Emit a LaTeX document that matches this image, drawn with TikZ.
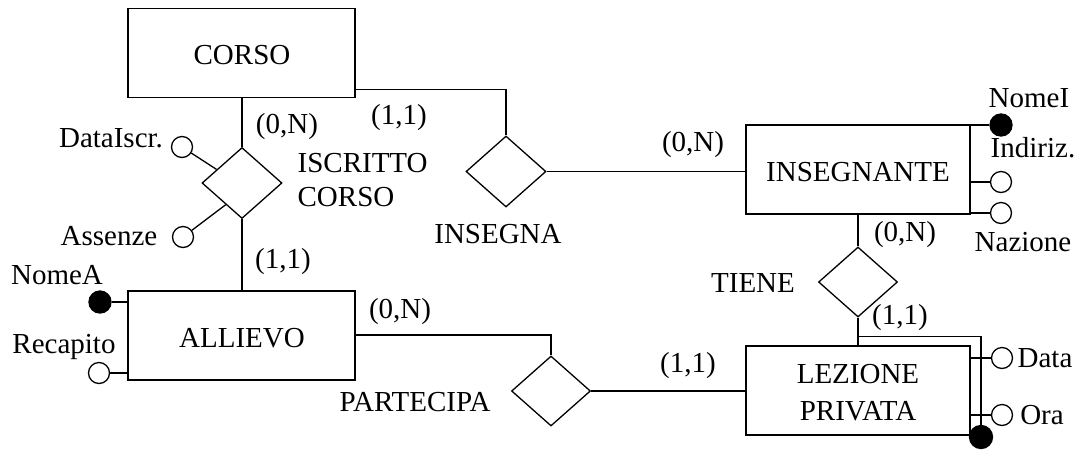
\documentclass[tikz,border=0pt]{standalone}
\usepackage{fontspec}
\setmainfont{Liberation Serif}
\usetikzlibrary{shapes.geometric,calc}
\newcommand\erfont{\fontsize{29}{34}\selectfont}
\begin{document}
\begin{tikzpicture}[x=1pt,y=-1pt, line width=1.3pt,
  every node/.style={font=\erfont, inner sep=0pt},
  entity/.style={draw, rectangle, minimum width=227pt, minimum height=89pt, align=center},
  rel/.style={draw, diamond, minimum width=80pt, minimum height=71pt},
  attr/.style={draw, circle, minimum size=21pt, fill=white},
  keyattr/.style={draw, circle, minimum size=22pt, fill=black}]
\useasboundingbox (0,0) rectangle (1079,451);
% entities
\node[entity] (corso) at (241.5,53) {};
\node (corsoT) at (242,55) {CORSO};
\node[entity] (allievo) at (241.5,335.5) {};
\node (allievoT) at (242,338) {ALLIEVO};
\node[entity, minimum width=224pt] (insegnante) at (858,169.5) {};
\node (insegnanteT) at (858,172) {INSEGNANTE};
\node[entity, minimum width=224pt] (lezione) at (858,390.5) {};
\node[align=center, font=\fontsize{29}{37}\selectfont] (lezioneT) at (858,393) {LEZIONE\\PRIVATA};
% relationships
\node[rel] (iscritto) at (242,183) {};
\node[rel] (insegna) at (506,171.5) {};
\node[rel, minimum width=79pt, minimum height=70pt] (partecipa) at (551,391) {};
\node[rel, minimum width=79pt, minimum height=70pt] (tiene) at (858,282) {};
% connectors
\draw (corso.south -| iscritto.north) -- (iscritto.north);
\draw (iscritto.south) -- (iscritto.south |- allievo.north);
\draw ([yshift=9pt]corso.south east) -| (insegna.north);
\draw (insegna.east) -- (insegna.east -| insegnante.west);
\draw ([yshift=0.5pt]allievo.east) -| (partecipa.north);
\draw (partecipa.east) -- (partecipa.east -| lezione.west);
\draw (insegnante.south) -- (tiene.north);
\draw (tiene.south) -- (lezione.north);
% attributes
\node[attr] (dataiscr) at (182,147) {};
\node[attr] (assenze) at (183,237) {};
\node[keyattr] (nomeA) at (100,302) {};
\node[attr] (recapito) at (99,373) {};
\node[keyattr] (nomeI) at (1001,125) {};
\node[attr] (indiriz) at (1001,182) {};
\node[attr] (nazione) at (1001,213) {};
\node[attr] (data) at (1002,358) {};
\node[attr] (ora) at (1002,415) {};
\node[keyattr, minimum size=23pt] (idL) at (981,437) {};
\draw (dataiscr) -- ($(iscritto.west)!0.375!(iscritto.north)$);
\draw (assenze) -- ($(iscritto.west)!0.6!(iscritto.south)$);
\draw (nomeA) -- (nomeA -| allievo.west);
\draw (recapito) -- (recapito -| allievo.west);
\draw (nomeI) -- (nomeI -| insegnante.east);
\draw (indiriz) -- (indiriz -| insegnante.east);
\draw (nazione) -- (nazione -| insegnante.east);
\draw (data) -- (data -| lezione.east);
\draw (ora) -- (ora -| lezione.east);
\draw ([yshift=9pt]lezione.north) -| (idL);
% labels
\node (c1) at (287,127) {(0,N)};
\node (c2) at (399,118) {(1,1)};
\node (c3) at (283,262) {(1,1)};
\node (c4) at (400,312) {(0,N)};
\node (c5) at (688,366) {(1,1)};
\node (c6) at (693,145) {(0,N)};
\node (c7) at (905,235) {(0,N)};
\node (c8) at (900,318) {(1,1)};
\node[align=left, anchor=west] (iscrittoT) at (297,180) {ISCRITTO\\CORSO};
\node (insegnaT) at (498,234) {INSEGNA};
\node (partecipaT) at (415,402) {PARTECIPA};
\node (tieneT) at (753,283) {TIENE};
\node (dataiscrT) at (111,138) {DataIscr.};
\node (assenzeT) at (109,236) {Assenze};
\node (nomeAT) at (57,275) {NomeA};
\node (recapitoT) at (64,347) {Recapito};
\node (nomeIT) at (1029,98) {NomeI};
\node (indirizT) at (1033,148) {Indiriz.};
\node (nazioneT) at (1023,242) {Nazione};
\node (dataT) at (1045,358) {Data};
\node (oraT) at (1042,415) {Ora};
\end{tikzpicture}
\end{document}
